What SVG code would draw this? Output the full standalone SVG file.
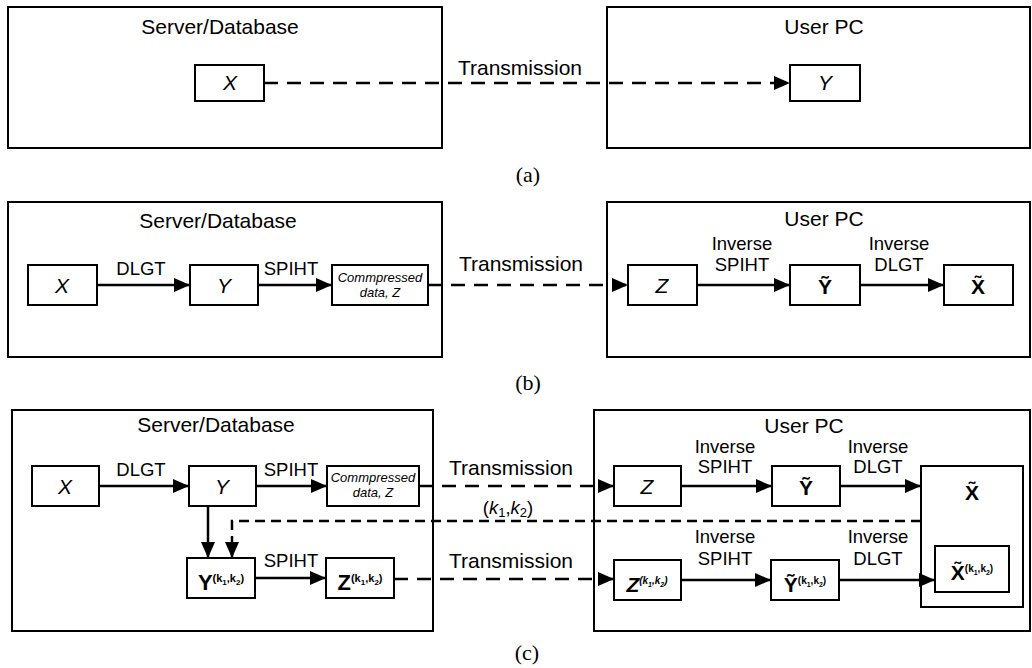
<svg xmlns="http://www.w3.org/2000/svg" width="1032" height="668" viewBox="0 0 1032 668">
  <style>
    .frame { fill: none; stroke: #000; stroke-width: 2; }
    .box { fill: #fff; stroke: #000; stroke-width: 2; }
    .flow { fill: none; stroke: #000; stroke-width: 2.5; marker-end: url(#head); }
    .tx { stroke-dasharray: 14 9; }
    .key { stroke-dasharray: 10 6; }
    text { font-family: "Liberation Sans", Arial, sans-serif; fill: #000; text-anchor: middle; }
    .title { font-size: 21px; }
    .op { font-size: 18.5px; }
    .var { font-size: 21px; font-style: italic; }
    .small { font-size: 13px; font-style: italic; }
    .est { font-size: 21px; font-weight: bold; }
    .sub { font-size: 22px; font-weight: bold; }
    .cap { font-family: "Liberation Serif", "Times New Roman", serif; font-size: 22px; }
  </style>
  <defs>
    <marker id="head" viewBox="0 0 16 14" refX="16" refY="7" markerWidth="16" markerHeight="14" markerUnits="userSpaceOnUse" orient="auto">
      <path d="M0,0 L16,7 L0,14 Z" fill="#000"/>
    </marker>
  </defs>

  <!-- (a) direct transmission -->
  <g id="a-server">
    <rect class="frame" x="8" y="7" width="434" height="141"/>
    <text class="title" x="220" y="34">Server/Database</text>
  </g>
  <g id="a-user">
    <rect class="frame" x="607" y="7" width="423" height="141"/>
    <text class="title" x="824" y="34">User PC</text>
  </g>
  <g id="a-x">
    <rect class="box" x="195" y="65" width="69" height="36"/>
    <text class="var" x="230" y="90">X</text>
  </g>
  <g id="a-y">
    <rect class="box" x="790" y="65" width="70" height="36"/>
    <text class="var" x="825" y="90">Y</text>
  </g>
  <g id="a-connectors">
    <line class="flow tx" x1="264" y1="83" x2="790" y2="83"/>
    <text class="title" x="520" y="75">Transmission</text>
  </g>
  <text class="cap" x="528" y="182">(a)</text>

  <!-- (b) compressed transmission -->
  <g id="b-server">
    <rect class="frame" x="8" y="202" width="434" height="155"/>
    <text class="title" x="218" y="228">Server/Database</text>
  </g>
  <g id="b-user">
    <rect class="frame" x="607" y="202" width="423" height="155"/>
    <text class="title" x="824" y="226">User PC</text>
  </g>
  <g id="b-x">
    <rect class="box" x="28" y="265" width="69" height="40"/>
    <text class="var" x="62" y="293">X</text>
  </g>
  <g id="b-y">
    <rect class="box" x="190" y="265" width="68" height="40"/>
    <text class="var" x="224" y="293">Y</text>
  </g>
  <g id="b-z">
    <rect class="box" x="332" y="265" width="96" height="40"/>
    <text class="small" x="380" y="282">Commpressed</text>
    <text class="small" x="380" y="297">data, Z</text>
  </g>
  <g id="b-zr">
    <rect class="box" x="628" y="265" width="69" height="40"/>
    <text class="var" x="662" y="293">Z</text>
  </g>
  <g id="b-yt">
    <rect class="box" x="790" y="265" width="70" height="40"/>
    <text class="est" x="825" y="294">Ỹ</text>
  </g>
  <g id="b-xt">
    <rect class="box" x="944" y="265" width="69" height="40"/>
    <text class="est" x="978" y="294">X̃</text>
  </g>
  <g id="b-connectors">
    <line class="flow" x1="97" y1="285" x2="190" y2="285"/>
    <text class="op" x="141" y="275">DLGT</text>
    <line class="flow" x1="258" y1="285" x2="332" y2="285"/>
    <text class="op" x="291" y="275">SPIHT</text>
    <line class="flow tx" x1="428" y1="285" x2="628" y2="285"/>
    <text class="title" x="521" y="271">Transmission</text>
    <line class="flow" x1="697" y1="285" x2="790" y2="285"/>
    <text class="op" x="742" y="250">Inverse</text>
    <text class="op" x="742" y="271">SPIHT</text>
    <line class="flow" x1="860" y1="285" x2="944" y2="285"/>
    <text class="op" x="899" y="250">Inverse</text>
    <text class="op" x="899" y="271">DLGT</text>
  </g>
  <text class="cap" x="528" y="390">(b)</text>

  <!-- (c) compressed transmission with selected sub-band -->
  <g id="c-server">
    <rect class="frame" x="12" y="410" width="421" height="221"/>
    <text class="title" x="216" y="432">Server/Database</text>
  </g>
  <g id="c-user">
    <rect class="frame" x="594" y="410" width="436" height="221"/>
    <text class="title" x="804" y="433">User PC</text>
  </g>
  <g id="c-x">
    <rect class="box" x="32" y="466" width="67" height="40"/>
    <text class="var" x="65" y="494">X</text>
  </g>
  <g id="c-y">
    <rect class="box" x="189" y="466" width="67" height="40"/>
    <text class="var" x="222" y="494">Y</text>
  </g>
  <g id="c-z">
    <rect class="box" x="327" y="466" width="92" height="40"/>
    <text class="small" x="373" y="482">Commpressed</text>
    <text class="small" x="373" y="497">data, Z</text>
  </g>
  <g id="c-yk">
    <rect class="box" x="187" y="558" width="68" height="40"/>
    <text class="sub" x="221" y="590">Y<tspan font-size="11" dy="-8">(k</tspan><tspan font-size="8" dy="3">1</tspan><tspan font-size="11" dy="-3">,k</tspan><tspan font-size="8" dy="3">2</tspan><tspan font-size="11" dy="-3">)</tspan></text>
  </g>
  <g id="c-zk">
    <rect class="box" x="326" y="558" width="68" height="40"/>
    <text class="sub" x="360" y="590">Z<tspan font-size="11" dy="-8">(k</tspan><tspan font-size="8" dy="3">1</tspan><tspan font-size="11" dy="-3">,k</tspan><tspan font-size="8" dy="3">2</tspan><tspan font-size="11" dy="-3">)</tspan></text>
  </g>
  <g id="c-zr">
    <rect class="box" x="614" y="466" width="67" height="40"/>
    <text class="var" x="647" y="494">Z</text>
  </g>
  <g id="c-yt">
    <rect class="box" x="772" y="466" width="68" height="40"/>
    <text class="est" x="806" y="495">Ỹ</text>
  </g>
  <g id="c-xt">
    <rect class="box" x="921" y="466" width="102" height="141"/>
    <text class="est" x="972" y="500">X̃</text>
  </g>
  <g id="c-xtk">
    <rect class="box" x="935" y="546" width="74" height="46"/>
    <text class="est" x="972" y="580" font-size="19">X̃<tspan font-size="10" dy="-8">(k</tspan><tspan font-size="7" dy="3">1</tspan><tspan font-size="10" dy="-3">,k</tspan><tspan font-size="7" dy="3">2</tspan><tspan font-size="10" dy="-3">)</tspan></text>
  </g>
  <g id="c-zrk">
    <rect class="box" x="614" y="560" width="67" height="40"/>
    <text class="est" x="647" y="592" font-size="18" font-style="italic">Z<tspan font-size="10" dy="-8">(k</tspan><tspan font-size="7" dy="3">1</tspan><tspan font-size="10" dy="-3">,k</tspan><tspan font-size="7" dy="3">2</tspan><tspan font-size="10" dy="-3">)</tspan></text>
  </g>
  <g id="c-ytk">
    <rect class="box" x="771" y="560" width="68" height="40"/>
    <text class="est" x="805" y="592" font-size="18">Ỹ<tspan font-size="10" dy="-8">(k</tspan><tspan font-size="7" dy="3">1</tspan><tspan font-size="10" dy="-3">,k</tspan><tspan font-size="7" dy="3">2</tspan><tspan font-size="10" dy="-3">)</tspan></text>
  </g>
  <g id="c-connectors">
    <line class="flow" x1="99" y1="486" x2="189" y2="486"/>
    <text class="op" x="141" y="476">DLGT</text>
    <line class="flow" x1="256" y1="486" x2="327" y2="486"/>
    <text class="op" x="291" y="476">SPIHT</text>
    <line class="flow tx" x1="419" y1="486" x2="614" y2="486"/>
    <text class="title" x="511" y="475">Transmission</text>
    <line class="flow" x1="681" y1="486" x2="772" y2="486"/>
    <text class="op" x="725" y="453">Inverse</text>
    <text class="op" x="725" y="473">SPIHT</text>
    <line class="flow" x1="840" y1="486" x2="921" y2="486"/>
    <text class="op" x="878" y="453">Inverse</text>
    <text class="op" x="878" y="473">DLGT</text>

    <line class="flow" x1="208" y1="506" x2="208" y2="558"/>
    <path class="flow key" d="M921,521 H232 V558"/>
    <text class="op" x="508" y="514">(<tspan font-style="italic">k</tspan><tspan font-size="13" dy="3">1</tspan><tspan dy="-3">,</tspan><tspan font-style="italic">k</tspan><tspan font-size="13" dy="3">2</tspan><tspan dy="-3">)</tspan></text>

    <line class="flow" x1="255" y1="578" x2="326" y2="578"/>
    <text class="op" x="291" y="567">SPIHT</text>
    <line class="flow tx" x1="394" y1="579" x2="614" y2="579"/>
    <text class="title" x="511" y="568">Transmission</text>
    <line class="flow" x1="681" y1="580" x2="771" y2="580"/>
    <text class="op" x="725" y="543">Inverse</text>
    <text class="op" x="725" y="565">SPIHT</text>
    <line class="flow" x1="839" y1="580" x2="935" y2="580"/>
    <text class="op" x="878" y="543">Inverse</text>
    <text class="op" x="878" y="565">DLGT</text>
  </g>
  <text class="cap" x="527" y="660">(c)</text>
</svg>
